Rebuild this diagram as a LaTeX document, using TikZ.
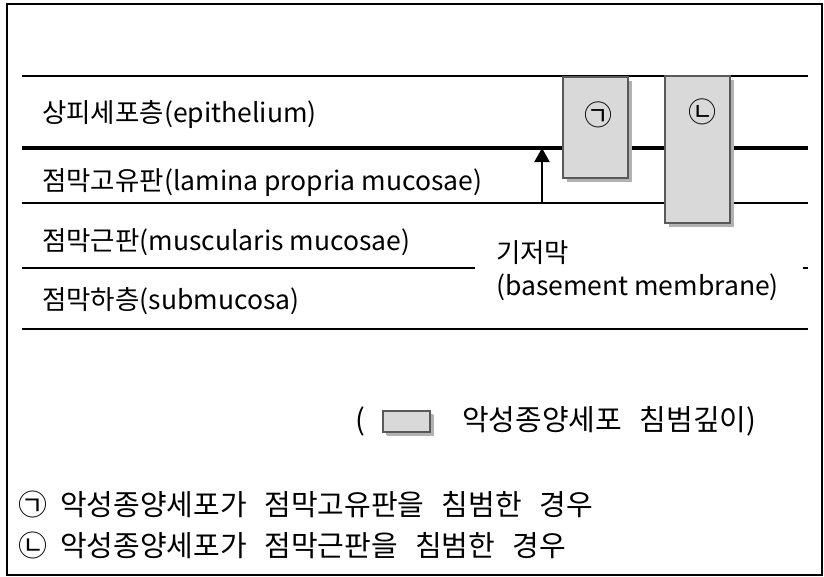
\documentclass[tikz,border=0pt]{standalone}
\usepackage{fontspec}
\setmainfont{Noto Sans CJK KR}
\usetikzlibrary{arrows.meta,shadows}
\begin{document}
\begin{tikzpicture}[x=1pt,y=-1pt,
  layerline/.style={line width=2pt, black},
  boldline/.style={line width=4pt, black},
  lbl/.style={anchor=west, inner sep=0pt, font=\fontsize{26.5}{30}\selectfont},
  note/.style={anchor=west, inner sep=0pt, font=\fontsize{29}{33}\selectfont},
  cancer/.style={draw=black!65, line width=2pt, fill=black!15, inner sep=0pt,
    drop shadow={shadow xshift=4pt, shadow yshift=-4pt, fill=black!30, opacity=1}},
  circ/.style={inner sep=0pt, font=\fontsize{28}{32}\selectfont}
]
\useasboundingbox (0,0) rectangle (824,576);
\fill[white] (0,0) rectangle (824,576);
\draw[line width=2.5pt] (7,4) rectangle (822,575);

% layer lines
\draw[layerline] (22,76) -- (808,76);
\draw[boldline] (22,148) -- (808,148);
\draw[layerline] (22,203) -- (808,203);
\draw[layerline] (22,268) -- (475,268);
\draw[layerline] (803,268) -- (808,268);
\draw[layerline] (22,329) -- (808,329);

% layer labels
\node[lbl] (epi) at (42,115) {상피세포층(epithelium)};
\node[lbl] (lam) at (42,183) {점막고유판(lamina propria mucosae)};
\node[lbl] (mus) at (42,242) {점막근판(muscularis mucosae)};
\node[lbl] (sub) at (42,301) {점막하층(submucosa)};

% basement membrane
\node[lbl] (bm1) at (496,253) {기저막};
\node[lbl] (bm2) at (496,287) {(basement membrane)};
\coordinate (bmfoot) at (542,203);
\coordinate (bmtip) at (542,148);
\draw[line width=2pt, -{Triangle[width=15pt,length=14pt]}] (bmfoot) -- (bmtip);

% invasion boxes
\node[cancer, minimum width=65pt, minimum height=101pt] (boxA) at (595.5,127.5) {};
\node[cancer, minimum width=65pt, minimum height=147pt] (boxB) at (697.5,149.5) {};
\node[circ] (ca) at (598,115) {㉠};
\node[circ] (cb) at (702,112) {㉡};

% legend
\node[note] (lpar) at (355,421) {(};
\node[cancer, minimum width=47pt, minimum height=21pt,
  drop shadow={shadow xshift=3pt, shadow yshift=-3pt, fill=black!30, opacity=1}] (lbox) at (406.5,421.5) {};
\node[note] (ltext) at (462,421) {악성종양세포\hspace{0.6em}침범깊이)};

% notes
\node[note] (n1) at (18,504) {㉠\hspace{0.45em}악성종양세포가\hspace{0.6em}점막고유판을\hspace{0.6em}침범한\hspace{0.6em}경우};
\node[note] (n2) at (18,545) {㉡\hspace{0.45em}악성종양세포가\hspace{0.6em}점막근판을\hspace{0.6em}침범한\hspace{0.6em}경우};
\end{tikzpicture}
\end{document}
